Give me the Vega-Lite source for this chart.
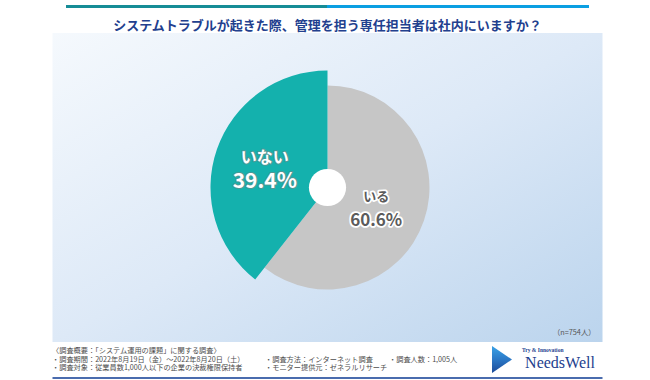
{
  "$schema": "https://vega.github.io/schema/vega-lite/v6.json",
  "background": "white",
  "padding": {"left": 49, "top": 5, "right": 0, "bottom": 0},
  "config": {"view": {"stroke": null}, "font": "Noto Sans CJK JP"},
  "spacing": 0,
  "center": true,
  "vconcat": [
    {
      "width": 523,
      "height": 3,
      "data": {"values": [{"part": "bar"}]},
      "mark": {
        "type": "rect",
        "color": {
          "gradient": "linear", "x1": 0, "y1": 0, "x2": 1, "y2": 0,
          "stops": [
            {"offset": 0, "color": "#168c96"},
            {"offset": 0.5, "color": "#168c96"},
            {"offset": 0.5, "color": "#0b9fe2"},
            {"offset": 1, "color": "#0b9fe2"}
          ]
        }
      },
      "encoding": {},
      "title": {
        "text": "システムトラブルが起きた際、管理を担う専任担当者は社内にいますか？",
        "orient": "bottom",
        "anchor": "middle",
        "offset": 12,
        "fontSize": 13,
        "fontWeight": "bold",
        "color": "#22408e",
        "font": "Noto Sans CJK JP"
      }
    },
    {
      "width": 550,
      "height": 309,
      "title": {
        "text": "（n=754人）",
        "orient": "bottom",
        "anchor": "end",
        "offset": -13,
        "dx": -7,
        "fontSize": 7.3,
        "fontWeight": "normal",
        "color": "#555555",
        "font": "Noto Sans CJK JP"
      },
      "data": {"values": [{"group": "いる", "share": 0.606}, {"group": "いない", "share": 0.394}]},
      "layer": [
        {
          "data": {"values": [{"part": "panel"}]},
          "mark": {
            "type": "rect",
            "color": {
              "gradient": "linear", "x1": 0, "y1": 0, "x2": 1, "y2": 1,
              "stops": [
                {"offset": 0, "color": "#f5f9fd"},
                {"offset": 0.5, "color": "#dde9f7"},
                {"offset": 1, "color": "#bbd4ed"}
              ]
            }
          },
          "encoding": {}
        },
        {
          "mark": {"type": "arc", "radius": 102},
          "encoding": {
            "theta": {"field": "share", "type": "quantitative", "stack": true},
            "order": {"field": "share", "type": "quantitative", "sort": "descending"},
            "color": {"field": "group", "type": "nominal", "scale": {"domain": ["いる", "いない"], "range": ["#c6c6c6", "#14b1ad"]}, "legend": null},
            "opacity": {"condition": {"test": "datum.group === 'いる'", "value": 1}, "value": 0}
          }
        },
        {
          "mark": {"type": "arc", "radius": 117},
          "encoding": {
            "theta": {"field": "share", "type": "quantitative", "stack": true},
            "order": {"field": "share", "type": "quantitative", "sort": "descending"},
            "color": {"field": "group", "type": "nominal", "scale": {"domain": ["いる", "いない"], "range": ["#c6c6c6", "#14b1ad"]}, "legend": null},
            "opacity": {"condition": {"test": "datum.group === 'いない'", "value": 1}, "value": 0}
          }
        },
        {
          "data": {"values": [{"part": "hole"}]},
          "mark": {"type": "point", "shape": "circle", "filled": true, "color": "white", "opacity": 1, "size": 1385},
          "encoding": {}
        },
        {
          "mark": {"type": "text", "radius": 59, "dx": -7, "dy": -10, "fontWeight": "bold", "strokeJoin": "round", "baseline": "middle", "align": "center"},
          "encoding": {
            "theta": {"field": "share", "type": "quantitative", "stack": true},
            "order": {"field": "share", "type": "quantitative", "sort": "descending"},
            "text": {"field": "group", "type": "nominal"},
            "size": {"condition": {"test": "datum.group === 'いない'", "value": 16}, "value": 13},
            "color": {"condition": {"test": "datum.group === 'いない'", "value": "white"}, "value": "#5b5b5b"},
            "stroke": {"condition": {"test": "datum.group === 'いない'", "value": "#4b9895"}, "value": "white"},
            "strokeWidth": {"condition": {"test": "datum.group === 'いない'", "value": 2}, "value": 3.5}
          }
        },
        {
          "mark": {"type": "text", "radius": 59, "dx": -7, "dy": 14, "fontWeight": "bold", "strokeJoin": "round", "baseline": "middle", "align": "center"},
          "encoding": {
            "theta": {"field": "share", "type": "quantitative", "stack": true},
            "order": {"field": "share", "type": "quantitative", "sort": "descending"},
            "text": {"field": "share", "type": "quantitative", "format": ".1%"},
            "size": {"condition": {"test": "datum.group === 'いない'", "value": 21}, "value": 17},
            "color": {"condition": {"test": "datum.group === 'いない'", "value": "white"}, "value": "#5b5b5b"},
            "stroke": {"condition": {"test": "datum.group === 'いない'", "value": "#4b9895"}, "value": "white"},
            "strokeWidth": {"condition": {"test": "datum.group === 'いない'", "value": 2}, "value": 3.5}
          }
        },
        {
          "mark": {"type": "text", "radius": 59, "dx": -7, "dy": -10, "fontWeight": "bold", "baseline": "middle", "align": "center"},
          "encoding": {
            "theta": {"field": "share", "type": "quantitative", "stack": true},
            "order": {"field": "share", "type": "quantitative", "sort": "descending"},
            "text": {"field": "group", "type": "nominal"},
            "size": {"condition": {"test": "datum.group === 'いない'", "value": 16}, "value": 13},
            "color": {"condition": {"test": "datum.group === 'いない'", "value": "white"}, "value": "#5b5b5b"}
          }
        },
        {
          "mark": {"type": "text", "radius": 59, "dx": -7, "dy": 14, "fontWeight": "bold", "baseline": "middle", "align": "center"},
          "encoding": {
            "theta": {"field": "share", "type": "quantitative", "stack": true},
            "order": {"field": "share", "type": "quantitative", "sort": "descending"},
            "text": {"field": "share", "type": "quantitative", "format": ".1%"},
            "size": {"condition": {"test": "datum.group === 'いない'", "value": 21}, "value": 17},
            "color": {"condition": {"test": "datum.group === 'いない'", "value": "white"}, "value": "#5b5b5b"}
          }
        }
      ]
    },
    {
      "spacing": 0,
      "hconcat": [
        {
          "width": 215,
          "height": 35,
          "data": {"values": [
            {"col": "L", "line": 1, "text": "〈調査概要：「システム運用の課題」に関する調査〉"},
            {"col": "L", "line": 2, "text": "・調査期間：2022年8月19日（金）～2022年8月20日（土）"},
            {"col": "L", "line": 3, "text": "・調査対象：従業員数1,000人以下の企業の決裁権限保持者"}
          ]},
          "mark": {"type": "text", "align": "left", "baseline": "middle", "fontSize": 7.2, "color": "#4d4d4d", "dx": 3},
          "encoding": {
            "x": {"field": "col", "type": "nominal", "scale": {"type": "point", "align": 0, "padding": 0}, "axis": null},
            "y": {"field": "line", "type": "ordinal", "scale": {"type": "point", "domain": [1, 2, 3], "padding": 1.19}, "axis": null},
            "text": {"field": "text", "type": "nominal"}
          }
        },
        {
          "width": 117,
          "height": 35,
          "data": {"values": [
            {"col": "M", "line": 2, "text": "・調査方法：インターネット調査"},
            {"col": "M", "line": 3, "text": "・モニター提供元：ゼネラルリサーチ"}
          ]},
          "mark": {"type": "text", "align": "left", "baseline": "middle", "fontSize": 7.2, "color": "#4d4d4d", "dx": 1},
          "encoding": {
            "x": {"field": "col", "type": "nominal", "scale": {"type": "point", "align": 0, "padding": 0}, "axis": null},
            "y": {"field": "line", "type": "ordinal", "scale": {"type": "point", "domain": [1, 2, 3], "padding": 1.19}, "axis": null},
            "text": {"field": "text", "type": "nominal"}
          }
        },
        {
          "width": 104,
          "height": 35,
          "data": {"values": [
            {"col": "R", "line": 2, "text": "・調査人数：1,005人"}
          ]},
          "mark": {"type": "text", "align": "left", "baseline": "middle", "fontSize": 7.2, "color": "#4d4d4d", "dx": 1},
          "encoding": {
            "x": {"field": "col", "type": "nominal", "scale": {"type": "point", "align": 0, "padding": 0}, "axis": null},
            "y": {"field": "line", "type": "ordinal", "scale": {"type": "point", "domain": [1, 2, 3], "padding": 1.19}, "axis": null},
            "text": {"field": "text", "type": "nominal"}
          }
        },
        {
          "width": 20,
          "height": 35,
          "data": {"values": [{"logo": "mark"}]},
          "mark": {
            "type": "point",
            "shape": "M-0.74,-1L0.74,0L-0.74,1Z",
            "filled": true,
            "opacity": 1,
            "size": 729,
            "color": {
              "gradient": "linear", "x1": 0, "y1": 0, "x2": 0, "y2": 1,
              "stops": [
                {"offset": 0, "color": "#3aa2e6"},
                {"offset": 0.5, "color": "#2b78c6"},
                {"offset": 1, "color": "#1b4a98"}
              ]
            }
          },
          "encoding": {}
        },
        {
          "width": 94,
          "height": 35,
          "layer": [
            {
              "data": {"values": [{"tag": "Try & Innovation"}]},
              "mark": {"type": "text", "align": "left", "baseline": "middle", "dx": -37, "dy": -9.5, "font": "Liberation Serif", "fontWeight": "bold", "fontSize": 5.5, "color": "#23408e"},
              "encoding": {"text": {"field": "tag", "type": "nominal"}}
            },
            {
              "data": {"values": [{"brand": "NeedsWell"}]},
              "mark": {"type": "text", "align": "center", "baseline": "alphabetic", "dx": 1, "dy": 8.5, "font": "Liberation Serif", "fontSize": 16, "color": "#23408e"},
              "encoding": {"text": {"field": "brand", "type": "nominal"}}
            }
          ]
        }
      ]
    },
    {
      "width": 550,
      "height": 2,
      "data": {"values": [{"part": "line"}]},
      "mark": {"type": "rect", "color": "#4a6cae"},
      "encoding": {}
    }
  ]
}
